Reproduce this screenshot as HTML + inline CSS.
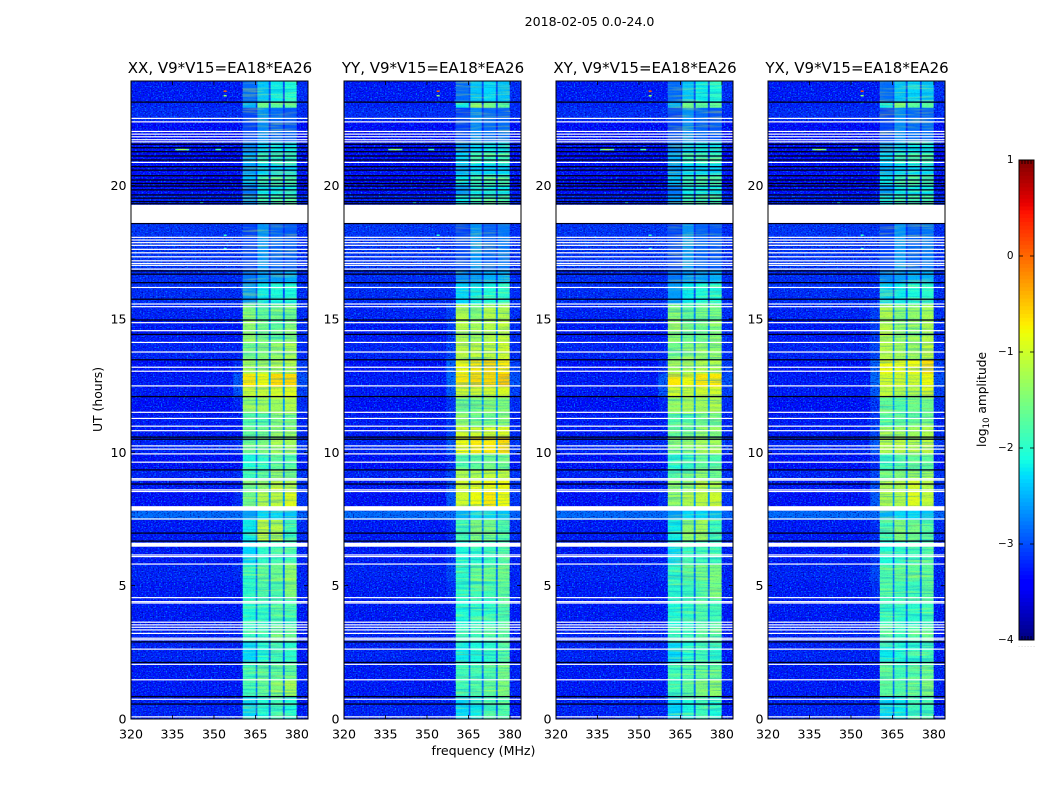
<!DOCTYPE html>
<html lang="en">
<head>
<meta charset="utf-8">
<title>2018-02-05 0.0-24.0</title>
<style>
html,body{margin:0;padding:0;background:#fff;width:1050px;height:800px;overflow:hidden}
svg{display:block}
text{font-family:"DejaVu Sans","Liberation Sans",sans-serif;fill:#000}
</style>
</head>
<body>
<svg id="fig" xmlns="http://www.w3.org/2000/svg" width="1050" height="800" viewBox="0 0 1050 800">
  <defs>
    <filter id="speckleLight" x="0" y="0" width="100%" height="100%" color-interpolation-filters="sRGB">
      <feTurbulence type="fractalNoise" baseFrequency="0.62 0.8" numOctaves="1" seed="4"/>
      <feColorMatrix values="0 0 0 0 0  0 0 0 0 0.55  0 0 0 0 1  3.2 0 0 0 -1.55"/>
    </filter>
    <filter id="speckleDark" x="0" y="0" width="100%" height="100%" color-interpolation-filters="sRGB">
      <feTurbulence type="fractalNoise" baseFrequency="0.62 0.8" numOctaves="1" seed="11"/>
      <feColorMatrix values="0 0 0 0 0  0 0 0 0 0  0 0 0 0 0.6  3 0 0 0 -1.5"/>
    </filter>
    <filter id="streak" x="0" y="0" width="100%" height="100%" color-interpolation-filters="sRGB">
      <feTurbulence type="fractalNoise" baseFrequency="0.02 0.55" numOctaves="2" seed="7"/>
      <feColorMatrix values="0 0 0 0 0  0 0 0 0 0.55  0 0 0 0 0.85  3.4 0 0 0 -1.6"/>
    </filter>
    <filter id="streakBright" x="0" y="0" width="100%" height="100%" color-interpolation-filters="sRGB">
      <feTurbulence type="fractalNoise" baseFrequency="0.03 0.5" numOctaves="2" seed="19"/>
      <feColorMatrix values="0 0 0 0 1  0 0 0 0 1  0 0 0 0 0.1  3.4 0 0 0 -1.6"/>
    </filter>
  </defs>
  <text x="589.5" y="26" font-size="12.6" text-anchor="middle">2018-02-05 0.0-24.0</text>
  <text x="483.5" y="755" font-size="12.6" text-anchor="middle">frequency (MHz)</text>
  <text x="0" y="0" font-size="12.4" text-anchor="middle" transform="translate(102 399.5) rotate(-90)">UT (hours)</text>
  <text x="0" y="0" font-size="12.2" text-anchor="middle" transform="translate(986 399.5) rotate(-90)">log<tspan font-size="8.5" dy="3">10</tspan><tspan dy="-3"> amplitude</tspan></text>
</svg>
<script>
// ---- chart data (log10 amplitude, UT hours, MHz) ----
const panelTitles = ['XX, V9*V15=EA18*EA26','YY, V9*V15=EA18*EA26','XY, V9*V15=EA18*EA26','YX, V9*V15=EA18*EA26'];
const xTickValues = [320,335,350,365,380];
const yTickValues = [0,5,10,15,20];
const colorbarTickValues = [-4,-3,-2,-1,0,1];
const colorbarEdgeTicks = [0,0.2,0.4,0.6,0.8,1];
const freqEdges = [320,357,360.4,365.1,365.7,369.8,370.5,374.9,375.6,379.9,384];
const rowEdges = [0,0.85,1.495,2.12,2.89,3.49,4.485,5.18,5.83,6.46,6.68,7.48,7.81,7.97,8.57,8.97,9.37,9.97,10.57,10.96,11.46,12.06,12.46,12.96,13.46,14.15,14.95,15.55,16.35,16.85,18.6,19.28,19.64,20.03,20.43,20.83,21.23,21.63,22.43,22.93,23.12,23.93];
const rowBackground = [-3.25,-3.3,-3.3,-3.25,-3.25,-3.3,-3.3,-3.25,-3.3,-3.25,-3.3,-2.85,-3.15,-3.35,-3.3,-3.25,-3.35,-3.25,-3.3,-3.3,-3.35,-3.3,-3.3,-3.35,-3.25,-3.3,-3.25,-3.2,-3.2,-3.15,-3.15,-3.25,-3.35,-3.4,-3.35,-3.4,-3.35,-3.4,-3.2,-3.25,-3.3,-3.2];
const rowGap = [-2.9,-2.8,-2.8,-2.9,-2.8,-2.8,-2.8,-2.8,-2.9,-2.9,-2.7,-2.8,-2.8,-2.6,-2.6,-2.7,-2.8,-2.6,-2.7,-2.7,-2.6,-2.6,-2.5,-2.6,-2.7,-2.7,-2.7,-3.0,-3.1,-3.15,-3.15,-3.1,-3.1,-3.2,-3.1,-3.2,-3.1,-3.2,-3.1,-3.1,-3.0,-3.0];
const rowRight = [-3.3,-3.25,-3.25,-3.3,-3.3,-3.3,-3.25,-3.25,-3.25,-3.3,-3.2,-2.9,-3.1,-3.15,-3.15,-3.15,-3.3,-3.15,-3.2,-3.25,-3.2,-3.1,-3.0,-3.1,-3.2,-3.2,-3.2,-3.2,-3.2,-3.2,-3.2,-3.2,-3.3,-3.4,-3.3,-3.4,-3.3,-3.4,-3.2,-3.2,-3.2,-3.2];
const shoulderXX = [-3.25,-3.3,-3.3,-3.25,-3.25,-3.3,-3.3,-3.2,-3.3,-3.25,-3.3,-2.85,-3.15,-3.2,-3.25,-3.2,-3.35,-3.2,-3.3,-3.3,-3.25,-3.0,-2.95,-3.2,-3.25,-3.3,-3.25,-3.2,-3.2,-3.15,-3.15,-3.25,-3.35,-3.4,-3.35,-3.4,-3.35,-3.4,-3.2,-3.25,-3.3,-3.2];
const shoulderYY = [-3.25,-3.3,-3.3,-3.25,-3.25,-3.3,-3.2,-3.05,-3.15,-3.25,-3.2,-2.85,-3.15,-2.95,-3.0,-3.05,-3.2,-2.95,-3.05,-3.15,-3.15,-2.95,-2.85,-2.9,-3.05,-3.1,-3.1,-3.2,-3.2,-3.15,-3.15,-3.25,-3.35,-3.4,-3.35,-3.4,-3.35,-3.4,-3.2,-3.25,-3.3,-3.2];
// band levels per row: [window1, window2, window3, window4]
const bandsXX = [[-2.3,-2.1,-1.9,-2.1],[-1.9,-1.7,-1.5,-1.3],[-1.9,-1.7,-1.7,-1.7],[-2.3,-2.1,-1.9,-2.0],[-1.9,-1.9,-1.6,-1.7],[-2.1,-2.0,-1.8,-1.9],[-2.0,-1.8,-1.8,-1.5],[-2.0,-1.7,-1.6,-1.4],[-2.3,-2.0,-1.9,-1.9],[-2.3,-2.0,-1.9,-1.9],[-2.2,-1.1,-1.2,-1.9],[-2.6,-2.3,-2.3,-2.4],[-2.6,-2.3,-2.3,-2.4],[-1.6,-1.2,-1.1,-0.9],[-1.6,-1.4,-1.1,-1.2],[-1.9,-1.7,-1.4,-1.6],[-2.1,-2.0,-1.7,-1.8],[-1.6,-1.5,-1.3,-1.3],[-1.7,-1.6,-1.4,-1.4],[-1.8,-1.8,-1.5,-1.6],[-1.4,-1.3,-1.3,-1.2],[-1.1,-1.1,-1.0,-0.9],[-0.7,-0.8,-0.6,-0.6],[-1.3,-1.3,-1.2,-1.2],[-1.6,-1.5,-1.4,-1.3],[-1.4,-1.6,-1.7,-1.5],[-1.5,-1.7,-1.6,-1.6],[-2.6,-2.2,-2.1,-2.1],[-2.8,-2.6,-2.6,-2.5],[-3.05,-2.65,-2.9,-2.95],[-3.05,-2.65,-2.9,-2.95],[-2.6,-1.9,-1.8,-1.8],[-2.8,-2.2,-2.2,-2.2],[-2.4,-1.9,-1.8,-1.8],[-2.6,-2.3,-2.3,-2.3],[-2.5,-1.9,-1.9,-1.9],[-2.7,-2.3,-2.2,-2.2],[-3.05,-2.7,-2.9,-2.95],[-3.05,-2.65,-2.85,-2.95],[-2.5,-1.6,-1.7,-1.7],[-2.85,-2.4,-2.2,-2.1]];
const bandsYY = [[-2.3,-2.2,-1.9,-1.8],[-1.9,-1.8,-1.7,-1.5],[-1.9,-1.9,-1.8,-1.6],[-2.2,-2.1,-2.0,-1.8],[-1.9,-1.9,-1.8,-1.7],[-2.1,-2.0,-2.0,-1.8],[-2.0,-1.9,-1.9,-1.7],[-2.0,-1.7,-1.7,-1.6],[-2.1,-2.0,-1.9,-1.8],[-2.1,-2.0,-1.9,-1.8],[-1.9,-1.5,-1.6,-1.8],[-2.5,-2.3,-2.3,-2.4],[-2.5,-2.3,-2.3,-2.4],[-1.0,-0.8,-0.7,-0.8],[-1.0,-0.9,-0.8,-0.8],[-1.2,-1.2,-1.1,-1.1],[-1.8,-1.7,-1.6,-1.6],[-0.8,-0.7,-0.7,-0.6],[-1.0,-1.0,-1.0,-0.9],[-1.4,-1.6,-1.6,-1.5],[-1.6,-1.6,-1.5,-1.5],[-1.0,-1.0,-1.0,-0.9],[-0.7,-0.6,-0.6,-0.5],[-0.8,-0.7,-0.6,-0.7],[-1.1,-1.1,-1.1,-1.0],[-1.2,-1.3,-1.2,-1.1],[-1.2,-1.5,-1.2,-1.2],[-2.3,-2.2,-2.1,-2.0],[-2.7,-2.6,-2.5,-2.5],[-3.05,-2.65,-2.9,-2.8],[-3.05,-2.65,-2.9,-2.8],[-2.2,-1.9,-1.8,-1.8],[-2.6,-2.2,-2.2,-2.2],[-2.2,-1.9,-1.8,-1.8],[-2.5,-2.3,-2.3,-2.3],[-2.3,-1.9,-1.9,-1.9],[-2.6,-2.3,-2.2,-2.2],[-3.05,-2.7,-2.85,-2.85],[-3.05,-2.7,-2.85,-2.9],[-2.2,-1.5,-1.7,-1.7],[-2.85,-2.4,-2.3,-2.4]];
const bandsXY = [[-2.3,-2.1,-1.9,-2.1],[-1.9,-1.7,-1.5,-1.4],[-1.9,-1.8,-1.7,-1.7],[-2.3,-2.1,-1.9,-2.0],[-1.9,-1.9,-1.7,-1.7],[-2.1,-2.0,-1.8,-1.9],[-2.0,-1.9,-1.8,-1.6],[-2.0,-1.7,-1.6,-1.5],[-2.3,-2.0,-1.9,-1.9],[-2.3,-2.0,-1.9,-1.9],[-2.2,-1.4,-1.3,-1.9],[-2.6,-2.3,-2.3,-2.4],[-2.6,-2.3,-2.3,-2.4],[-1.4,-1.2,-1.1,-1.0],[-1.4,-1.4,-1.1,-1.2],[-1.8,-1.7,-1.4,-1.6],[-2.1,-2.0,-1.7,-1.8],[-1.5,-1.5,-1.3,-1.3],[-1.7,-1.6,-1.4,-1.5],[-1.8,-1.8,-1.6,-1.6],[-1.4,-1.3,-1.3,-1.2],[-1.0,-1.1,-1.0,-1.0],[-0.7,-0.8,-0.7,-0.7],[-1.3,-1.3,-1.2,-1.2],[-1.6,-1.5,-1.4,-1.4],[-1.4,-1.6,-1.6,-1.5],[-1.5,-1.7,-1.6,-1.6],[-2.6,-2.2,-2.1,-2.1],[-2.8,-2.6,-2.6,-2.5],[-3.05,-2.65,-2.9,-2.95],[-3.05,-2.65,-2.9,-2.95],[-2.6,-1.9,-1.8,-1.8],[-2.8,-2.2,-2.2,-2.2],[-2.4,-1.9,-1.8,-1.8],[-2.6,-2.3,-2.3,-2.3],[-2.5,-1.9,-1.9,-1.9],[-2.7,-2.3,-2.2,-2.2],[-3.05,-2.7,-2.9,-2.95],[-3.05,-2.65,-2.85,-2.95],[-2.5,-1.6,-1.7,-1.7],[-2.85,-2.4,-2.2,-2.1]];
const bandsYX = [[-2.3,-2.2,-1.9,-1.9],[-1.7,-1.8,-1.7,-1.5],[-1.7,-1.9,-1.8,-1.7],[-2.2,-2.1,-2.0,-1.9],[-1.7,-1.9,-1.8,-1.7],[-2.0,-2.0,-2.0,-1.9],[-1.8,-1.9,-1.9,-1.7],[-1.8,-1.7,-1.7,-1.7],[-2.1,-2.0,-1.9,-1.8],[-2.1,-2.0,-1.9,-1.8],[-1.9,-1.5,-1.6,-1.8],[-2.5,-2.3,-2.3,-2.4],[-2.5,-2.3,-2.3,-2.4],[-1.2,-1.2,-0.9,-1.1],[-1.2,-1.2,-1.0,-1.2],[-1.6,-1.5,-1.3,-1.3],[-1.9,-1.8,-1.7,-1.7],[-1.2,-1.1,-1.2,-1.1],[-1.3,-1.3,-1.3,-1.2],[-1.8,-1.7,-1.7,-1.6],[-1.7,-1.8,-1.6,-1.6],[-1.1,-1.2,-1.2,-0.9],[-1.0,-1.0,-1.0,-0.8],[-0.8,-0.9,-0.8,-0.6],[-1.2,-1.3,-1.3,-1.1],[-1.2,-1.4,-1.4,-1.2],[-1.2,-1.5,-1.4,-1.3],[-2.3,-2.2,-2.1,-2.0],[-2.7,-2.6,-2.5,-2.5],[-3.05,-2.65,-2.9,-2.8],[-3.05,-2.65,-2.9,-2.8],[-2.2,-1.9,-1.8,-1.8],[-2.6,-2.2,-2.2,-2.2],[-2.2,-1.9,-1.8,-1.8],[-2.5,-2.3,-2.3,-2.3],[-2.3,-1.9,-1.9,-1.9],[-2.6,-2.3,-2.2,-2.2],[-3.05,-2.7,-2.85,-2.85],[-3.05,-2.7,-2.85,-2.9],[-2.2,-1.5,-1.7,-1.7],[-2.85,-2.4,-2.3,-2.4]];
// flagged (no data) intervals in UT
const flaggedLines = [22.52,22.39,22.03,21.93,21.83,21.72,21.64,20.87,18.06,17.96,17.86,17.76,17.61,17.48,17.33,17.18,17.08,17.01,16.87,16.18,15.56,15.46,14.86,14.56,14.12,13.76,13.19,13.04,12.49,11.50,11.27,10.98,10.81,10.24,10.12,9.94,9.63,9.01,8.96,8.59,8.53,7.50,6.15,6.09,5.81,4.55,4.40,4.35,3.63,3.53,3.44,3.34,3.21,3.03,2.97,2.62,2.05,1.47,0.74,0.08];
const flaggedStarts = [18.60,7.81,6.46];
const flaggedEnds = [19.28,7.98,6.61];
// dark (zero amplitude) integrations in UT
const darkLines = [23.13,21.55,21.42,21.27,21.11,20.96,20.71,20.58,20.37,20.21,20.08,19.98,19.84,19.65,19.53,19.40,19.32,18.58,16.80,16.68,16.36,15.74,14.96,14.42,13.47,12.09,10.57,10.49,9.34,8.81,6.97,6.67,2.89,2.12,0.84,0.56];
// narrow-band interference spots
const spotUT = [23.54,23.37,23.12,21.35,21.35,21.35,21.35,21.35,21.35,21.35,18.14,17.64,19.34];
const spotFreq = [353.5,353.5,353.5,336,337,338,339,340,350.5,351.5,353.5,353.5,345];
const spotLevel = [0.1,-1.4,-2.2,-1.7,-1.4,-1.2,-1.4,-1.7,-1.9,-1.8,-2,-2,-2];

// ---- layout ----
const panelLeft = [131,344,556,768];
const panelWidth = 177;
const plotTop = 81, plotBottom = 719;
const pxPerHour = 26.67;
const SVGNS = 'http://www.w3.org/2000/svg';
const fig = document.getElementById('fig');

function make(tag, attrs, parent, txt){
  const n = document.createElementNS(SVGNS, tag);
  for (const k in attrs) n.setAttribute(k, attrs[k]);
  if (txt !== undefined) n.textContent = txt;
  parent.appendChild(n);
  return n;
}
const yScale = ut => plotBottom - ut * pxPerHour;
const xScale = (left, mhz) => left + (mhz - 320) * (panelWidth / 64);
const cbTop = 160, cbBottom = 640, cbLeft = 1019, cbRight = 1034;
const cbScale = v => cbBottom - (v + 4) * (cbBottom - cbTop) / 5;

function ramp(t, pts){
  for (let i = 1; i < pts.length; i++){
    if (t <= pts[i][0]){
      const a = pts[i-1], b = pts[i];
      return a[1] + (b[1]-a[1]) * (t-a[0]) / (b[0]-a[0]);
    }
  }
  return pts[pts.length-1][1];
}
function jet(v){
  const t = Math.max(0, Math.min(1, (v + 4) / 5));
  const r = ramp(t, [[0,0],[0.35,0],[0.66,1],[0.89,1],[1,0.5]]);
  const g = ramp(t, [[0,0],[0.125,0],[0.375,1],[0.64,1],[0.91,0],[1,0]]);
  const b = ramp(t, [[0,0.5],[0.11,1],[0.34,1],[0.65,0],[1,0]]);
  return 'rgb(' + Math.round(r*255) + ',' + Math.round(g*255) + ',' + Math.round(b*255) + ')';
}
function columnLevels(row, bands, shoulder){
  const b = bands[row], g = rowGap[row];
  return [rowBackground[row], shoulder[row], b[0], g, b[1], g, b[2], g, b[3], rowRight[row]];
}
function addTexture(group, x, w, filter, opacity, name){
  const t = make('rect', {x:x, y:plotTop, width:w, height:plotBottom-plotTop, filter:filter, opacity:opacity}, group);
  
  
}
const panelBands = [bandsXX, bandsYY, bandsXY, bandsYX];
const panelShoulder = [shoulderXX, shoulderYY, shoulderXX, shoulderYY];
const panelIds = ['xx','yy','xy','yx'];

panelTitles.forEach((title, p) => {
  const left = panelLeft[p], right = left + panelWidth;
  const bands = panelBands[p], shoulder = panelShoulder[p];
  const group = make('g', {}, fig);
  
  

  // heatmap cells
  for (let r = 0; r < rowEdges.length - 1; r++){
    const levels = columnLevels(r, bands, shoulder);
    for (let c = 0; c < freqEdges.length - 1; c++){
      const x0 = xScale(left, freqEdges[c]), x1 = xScale(left, freqEdges[c+1]);
      const y0 = yScale(rowEdges[r+1]), y1 = yScale(rowEdges[r]);
      const cell = make('rect', {x:x0, y:y0, width:x1-x0+0.3, height:y1-y0+0.3, fill:jet(levels[c])}, group);
      
      
    }
  }
  // receiver texture: strong off-band, streaky in-band
  const bandX0 = xScale(left, freqEdges[2]), bandX1 = xScale(left, freqEdges[9]);
  addTexture(group, left, bandX0-left, 'url(#speckleLight)', 1, 'speckle-texture-light');
  addTexture(group, left, bandX0-left, 'url(#speckleDark)', 1, 'speckle-texture-dark');
  addTexture(group, bandX1, right-bandX1, 'url(#speckleLight)', 1, 'speckle-texture-light');
  addTexture(group, bandX1, right-bandX1, 'url(#speckleDark)', 1, 'speckle-texture-dark');
  addTexture(group, bandX0, bandX1-bandX0, 'url(#speckleDark)', 0.12, 'band-speckle-texture');
  addTexture(group, bandX0, bandX1-bandX0, 'url(#streak)', 0.4, 'band-streak-texture');
  addTexture(group, bandX0, bandX1-bandX0, 'url(#streakBright)', 0.3, 'band-streak-texture-bright');

  // interference spots
  spotUT.forEach((ut, i) => {
    const spot = make('rect', {x:xScale(left, spotFreq[i]), y:yScale(ut)-0.75, width:3, height:1.5, fill:jet(spotLevel[i])}, group);
    
    
  });
  // dark and flagged integrations
  darkLines.forEach(ut => {
    const line = make('rect', {x:left, y:yScale(ut)-0.65, width:panelWidth, height:1.3, fill:'#000018'}, group);
    
    
  });
  flaggedLines.forEach(ut => {
    const line = make('rect', {x:left, y:yScale(ut)-0.6, width:panelWidth, height:1.2, fill:'#fff'}, group);
    
    
  });
  flaggedStarts.forEach((s, i) => {
    const block = make('rect', {x:left, y:yScale(flaggedEnds[i]), width:panelWidth, height:yScale(s)-yScale(flaggedEnds[i]), fill:'#fff'}, group);
    
    
  });

  // frame
  const frame = make('rect', {x:left, y:plotTop, width:panelWidth, height:plotBottom-plotTop, fill:'none', stroke:'#000', 'stroke-width':1}, group);
  
  

  // ticks and labels
  xTickValues.forEach(v => {
    const x = xScale(left, v);
    const tb = make('line', {x1:x, x2:x, y1:plotBottom, y2:plotBottom-4, stroke:'#000', 'stroke-width':0.8}, group);
    
    
    const tt = make('line', {x1:x, x2:x, y1:plotTop, y2:plotTop+4, stroke:'#000', 'stroke-width':0.8}, group);
    
    
    const label = make('text', {x:x, y:plotBottom+19.5, 'font-size':12.6, 'text-anchor':'middle'}, group, String(v));
    
    
  });
  yTickValues.forEach(v => {
    const y = yScale(v);
    const tl = make('line', {x1:left, x2:left+4, y1:y, y2:y, stroke:'#000', 'stroke-width':0.8}, group);
    
    
    const tr = make('line', {x1:right, x2:right-4, y1:y, y2:y, stroke:'#000', 'stroke-width':0.8}, group);
    
    
    const label = make('text', {x:left-4.5, y:y+4.5, 'font-size':12.6, 'text-anchor':'end'}, group, String(v));
    
    
  });
  const heading = make('text', {x:left+panelWidth/2+0.5, y:73, 'font-size':15, 'text-anchor':'middle'}, group, title);
  
  
});

// ---- colorbar ----
const cbGroup = make('g', {}, fig);


for (let level = -4; level < 1; level += 0.04){
  const y1 = cbScale(level), y0 = cbScale(level + 0.04);
  const swatch = make('rect', {x:cbLeft, y:y0, width:cbRight-cbLeft, height:y1-y0+0.4, fill:jet(level + 0.02)}, cbGroup);
  
  
}
const cbFrame = make('rect', {x:cbLeft, y:cbTop, width:cbRight-cbLeft, height:cbBottom-cbTop, fill:'none', stroke:'#000', 'stroke-width':1}, cbGroup);


colorbarTickValues.forEach(v => {
  const y = cbScale(v);
  const a = make('line', {x1:cbLeft, x2:cbLeft+4, y1:y, y2:y, stroke:'#000', 'stroke-width':0.8}, cbGroup);
  
  
  const b = make('line', {x1:cbRight, x2:cbRight-4, y1:y, y2:y, stroke:'#000', 'stroke-width':0.8}, cbGroup);
  
  
  const label = make('text', {x:cbLeft-5.5, y:y+3, 'font-size':10.5, 'text-anchor':'end'}, cbGroup, (v < 0 ? '\u2212' + (-v) : String(v)));
  
  
});
colorbarEdgeTicks.forEach(f => {
  const x = cbLeft + f * (cbRight - cbLeft);
  const a = make('line', {x1:x, x2:x, y1:cbTop, y2:cbTop+4, stroke:'#000', 'stroke-width':0.8}, cbGroup);
  
  
  const b = make('line', {x1:x, x2:x, y1:cbBottom, y2:cbBottom-4, stroke:'#000', 'stroke-width':0.8}, cbGroup);
  
  
  const dot = make('text', {x:x, y:cbBottom+7, 'font-size':5, 'text-anchor':'middle', style:'fill:#888'}, cbGroup, '.');
  
  
});
</script>
</body>
</html>
